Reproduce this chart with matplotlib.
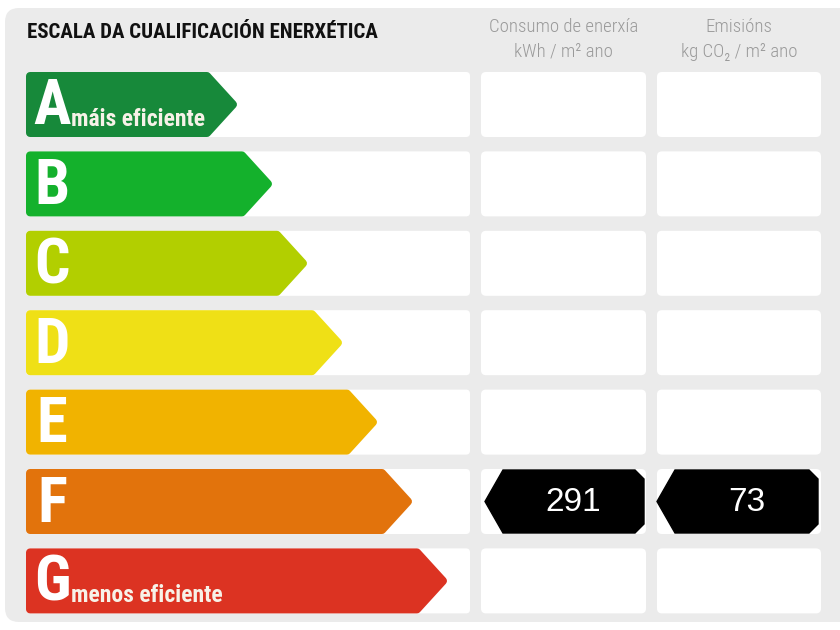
import matplotlib
matplotlib.use("Agg")
import matplotlib.pyplot as plt
from matplotlib.patches import Polygon, FancyBboxPatch
from matplotlib import font_manager

# Data
grades = ["A", "B", "C", "D", "E", "F", "G"]
grade_colors = ["#17893a", "#14b12c", "#b2cf00", "#efe016", "#f1b300", "#e2730c", "#dc3322"]
grade_notes = {"A": "máis eficiente", "G": "menos eficiente"}
rated_grade = "F"
consumption = 291   # kWh / m2 ano
emissions = 73      # kg CO2 / m2 ano

title = "ESCALA DA CUALIFICACIÓN ENERXÉTICA"
col_headers = [("Consumo de enerxía", "kWh / m² ano"),
               ("Emisións", "kg CO₂ / m² ano")]

# Fonts: pick a condensed face
installed = {f.name for f in font_manager.fontManager.ttflist}
cond = next((n for n in ["Roboto Condensed", "Barlow Condensed", "Archivo Narrow",
                         "Fira Sans Condensed"] if n in installed), "DejaVu Sans")
plt.rcParams["font.family"] = [cond, "DejaVu Sans"]

fig = plt.figure(figsize=(8.4, 6.3), dpi=100)
ax = fig.add_axes([0, 0, 1, 1])
ax.set_xlim(0, 840)
ax.set_ylim(630, 0)
ax.axis("off")

# Grey panel
ax.add_patch(FancyBboxPatch((5, 8), 850, 614, boxstyle="round,pad=0,rounding_size=14",
                            fc="#ebebeb", ec="none"))

ax.text(27, 32, title, fontsize=15, fontweight="bold", color="#111111",
        va="center", ha="left")

# Column headers
col_x = [(481, 646), (657, 821)]
for (x0, x1), (l1, l2) in zip(col_x, col_headers):
    cx = (x0 + x1) / 2
    ax.text(cx, 27, l1, fontsize=13.5, fontweight="light", color="#9a9a9a",
            ha="center", va="center")
    ax.text(cx, 52, l2, fontsize=13.5, fontweight="light", color="#9a9a9a",
            ha="center", va="center")

row_top0, row_pitch, row_h = 72, 79.4, 65
r = 4  # corner radius via round joins

for i, (g, c) in enumerate(zip(grades, grade_colors)):
    top = row_top0 + i * row_pitch
    bot = top + row_h
    mid = (top + bot) / 2

    # white cells
    ax.add_patch(FancyBboxPatch((26, top), 444, row_h, boxstyle="round,pad=0,rounding_size=4",
                                fc="white", ec="none"))
    for x0, x1 in col_x:
        ax.add_patch(FancyBboxPatch((x0, top), x1 - x0, row_h,
                                    boxstyle="round,pad=0,rounding_size=5",
                                    fc="white", ec="none"))

    # grade arrow
    tip = 237 + 35 * i
    body = tip - 30
    pts = [(26 + r, top + r), (body, top + r), (tip - r, mid), (body, bot - r), (26 + r, bot - r)]
    ax.add_patch(Polygon(pts, closed=True, fc=c, ec=c, lw=2 * r * 72 / 100, joinstyle="round"))

    ax.text(52, mid + 3, g, fontsize=45, fontweight="bold", color="white",
            ha="center", va="center")
    if g in grade_notes:
        ax.text(71, bot - 11.5, grade_notes[g], fontsize=17, fontweight="semibold",
                color="#f7f2e8", ha="left", va="baseline")

    # value markers
    if g == rated_grade:
        for (x0, x1), val in zip([(485, 644), (657, 818)], [consumption, emissions]):
            ch = 9
            vt, vb = top + 1, bot - 1
            vpts = [(x0, mid), (x0 + 18, vt), (x1 - ch, vt), (x1, vt + ch),
                    (x1, vb - ch), (x1 - ch, vb), (x0 + 18, vb)]
            ax.add_patch(Polygon(vpts, closed=True, fc="black", ec="black", lw=1))
            ax.text((x0 + 18 + x1) / 2, mid + 1, str(val), fontsize=24, color="white",
                    family=["Liberation Sans", "DejaVu Sans"], ha="center", va="center")

fig.savefig("out.png", dpi=100)
